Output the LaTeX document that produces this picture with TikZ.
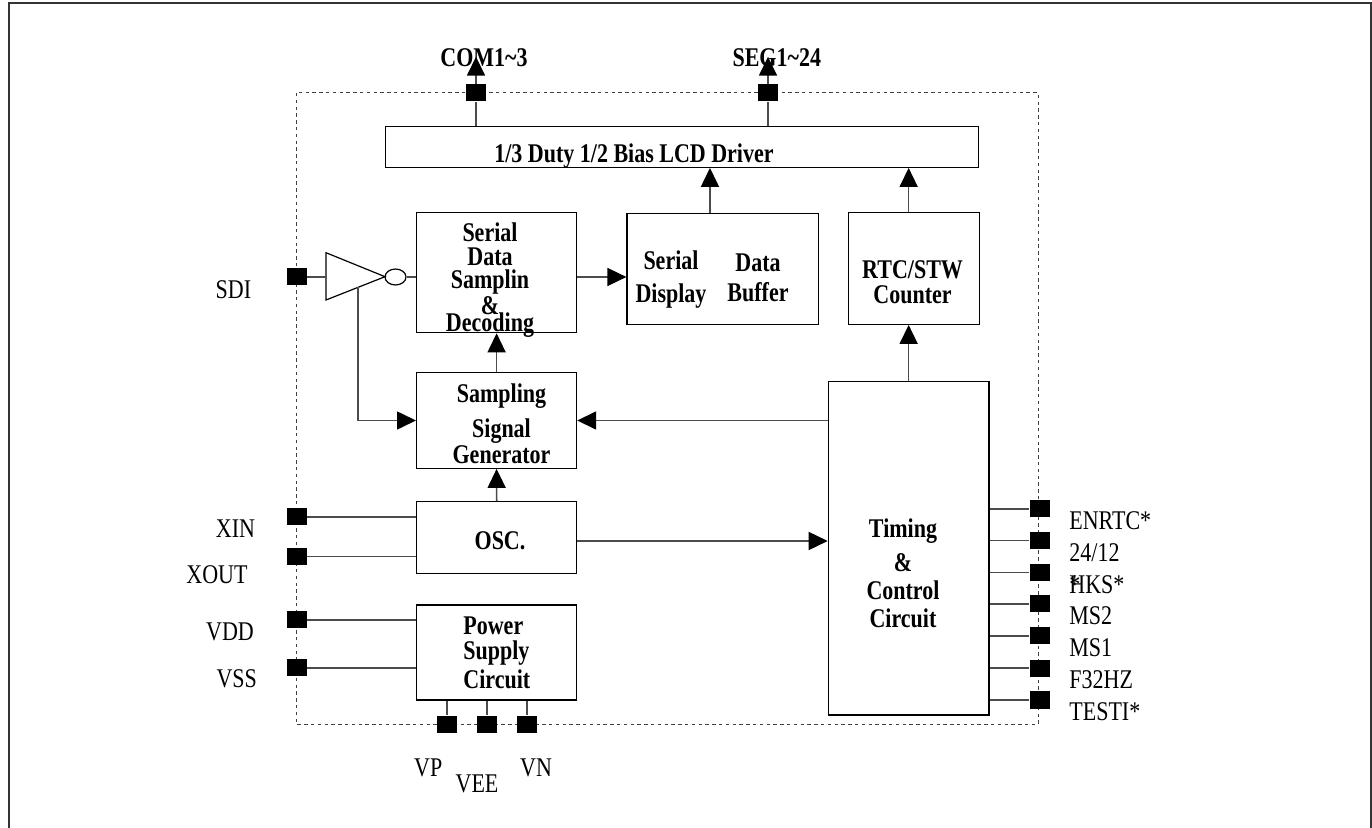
\documentclass[tikz,border=0pt]{standalone}
\usepackage{fontspec}
\setmainfont{Liberation Serif}[FakeStretch=0.815]
\usetikzlibrary{arrows.meta,shapes.geometric}

\begin{document}
\begin{tikzpicture}[line cap=butt,line join=miter,x=0.5pt,y=-0.5pt,
  blk/.style={draw=black,line width=0.6pt,inner sep=0pt},
  conn/.style={draw=black!70,line width=0.8pt},
  arr/.style={conn,-{Triangle[length=9.5pt,width=9pt,color=black]}},
  pad/.style={fill=black,minimum width=10pt,minimum height=8.5pt,inner sep=0pt},
  lbl/.style={font=\fontsize{13.5pt}{14pt}\selectfont,inner sep=0pt,anchor=base},
  blbl/.style={font=\fontsize{13.5pt}{14pt}\selectfont\bfseries,inner sep=0pt,anchor=base},
  btxt/.style={font=\fontsize{13.5pt}{#1}\selectfont\bfseries,inner sep=0pt,align=center,anchor=north},
  btxt/.default=11.75pt]
\useasboundingbox (0,0) rectangle (1372,828);
\draw[black!80,line width=1pt] (8.5,830) -- (8.5,3) -- (1371,3) -- (1371,830);
\draw[black!75,line width=0.5pt,dash pattern=on 1.7pt off 1.7pt] (296,93) rectangle (1038.3,724);

\node[blk,minimum width=296.5pt,minimum height=20.4pt] (lcd) at (682.2,146.9) {};
\node[blk,minimum width=80pt,minimum height=60pt] (sdd) at (496.6,272.7) {};
\node[blk,minimum width=95.75pt,minimum height=55.5pt] (buf) at (722.75,268.8) {};
\node[blk,minimum width=65.5pt,minimum height=56pt] (rtc) at (913.8,268.3) {};
\node[blk,minimum width=80pt,minimum height=47.8pt] (ssg) at (496.6,420.5) {};
\node[blk,minimum width=80pt,minimum height=35.8pt] (osc) at (496.7,537.5) {};
\node[blk,minimum width=80pt,minimum height=47.5pt] (psc) at (496.7,652.5) {};
\node[blk,minimum width=80.35pt,minimum height=166.85pt] (tcc) at (908.65,548.15) {};

\node[pad] (pcom) at (476,93) {};
\node[pad] (pseg) at (768,93) {};
\node[pad] (psdi) at (296.5,277) {};
\node[pad] (pxin) at (296.5,517) {};
\node[pad] (pxout) at (296.5,556.7) {};
\node[pad] (pvdd) at (296.5,620) {};
\node[pad] (pvss) at (296.5,668) {};
\node[pad] (pvp) at (446.7,724) {};
\node[pad] (pvee) at (487,724) {};
\node[pad] (pvn) at (526.7,724) {};

\draw[line width=0.6pt] (326,252.7) -- (385,276.7) -- (326,300) -- cycle;
\node[draw,line width=0.6pt,ellipse,minimum width=10.5pt,minimum height=8pt,inner sep=0pt] (bub) at (395.5,277) {};
\coordinate (invin) at (326,277);
\coordinate (tap) at (357.7,287.5);
\coordinate (comtip) at (476,56.7);
\coordinate (segtip) at (768,56.7);

\node[blbl] (comT) at (484,66.7) {COM1\textasciitilde 3};
\node[blbl] (segT) at (776.8,66.7) {SEG1\textasciitilde 24};
\node[blbl] (lcdT) at (634,163) {1/3 Duty 1/2 Bias LCD Driver};
\node[btxt] (sddT) at (490,222.5) {Serial\\Data\\Samplin\\\&\\[-3pt]Decoding};
\node[btxt=16.5pt] (bufT1) at (671,250) {Serial\\Display};
\node[btxt=15pt] (bufT2) at (758,253) {Data\\Buffer};
\node[btxt=12.5pt] (rtcT) at (912.6,260) {RTC/STW\\Counter};
\node[btxt=11.5pt] (ssgT) at (501.5,383) {Sampling\\[4.5pt]Signal\\Generator};
\node[blbl] (oscT) at (500,550) {OSC.};
\node[btxt=12.5pt,align=left,anchor=north west] (pscT) at (463,616.7) {Power\\Supply\\[2pt]Circuit};
\node[btxt=14pt] (tccT) at (903,518) {Timing\\[3pt]\&\\Control\\Circuit};

\node[lbl] (lsdi) at (233.4,298.3) {SDI};
\node[lbl] (lxin) at (235.5,537.3) {XIN};
\node[lbl] (lxout) at (217,584) {XOUT};
\node[lbl] (lvdd) at (230,640) {VDD};
\node[lbl] (lvss) at (236.7,687.3) {VSS};
\node[lbl] (lvp) at (428.3,776.7) {VP};
\node[lbl] (lvee) at (477,792.3) {VEE};
\node[lbl] (lvn) at (536,776.7) {VN};

\draw[conn] (pcom |- lcd.north) -- (pcom.south);
\draw[arr] (pcom.north) -- (comtip);
\draw[conn] (pseg |- lcd.north) -- (pseg.south);
\draw[arr] (pseg.north) -- (segtip);
\draw[arr] ([xshift=-6.4pt]buf.north) -- ([xshift=-6.4pt]buf.north |- lcd.south);
\draw[arr] (tcc.north) -- (tcc.north |- rtc.south);
\draw[arr] (tcc.north |- rtc.north) -- (tcc.north |- lcd.south);
\draw[arr] (ssg.north) -- (sdd.south);
\draw[arr] (osc.north) -- (ssg.south);
\draw[conn] (psdi.east) -- (invin);
\draw[conn] (bub.east) -- (bub -| sdd.west);
\draw[arr] (sdd.east |- bub) -- (bub -| buf.west);
\draw[arr] (tap) |- (ssg.west);
\draw[arr] (tcc.west |- ssg.east) -- (ssg.east);
\draw[arr] ([yshift=-1.75pt]osc.east) -- ([yshift=-1.75pt]osc.east -| tcc.west);
\draw[conn] (pxin.east) -- (pxin -| osc.west);
\draw[conn] (pxout.east) -- (pxout -| osc.west);
\draw[conn] (pvdd.east) -- (pvdd -| psc.west);
\draw[conn] (pvss.east) -- (pvss -| psc.west);
\foreach \p in {pvp,pvee,pvn} \draw[conn] (\p |- psc.south) -- (\p.north);

\foreach \n/\y/\t in {enrtc/509/ENRTC*, hr/540.7/{24/12}, hks/572.7/{\rlap{*}HKS*},
  mstwo/604/MS2, msone/636/MS1, fhz/668.3/F32HZ, testi/700/TESTI*}{
  \node[pad] (p\n) at (1039.5,\y) {};
  \draw[conn] (p\n -| tcc.east) -- (p\n.west);
  \node[lbl,anchor=base west] (l\n) at (1069,\y+20.5) {\t};
}
\end{tikzpicture}
\end{document}
